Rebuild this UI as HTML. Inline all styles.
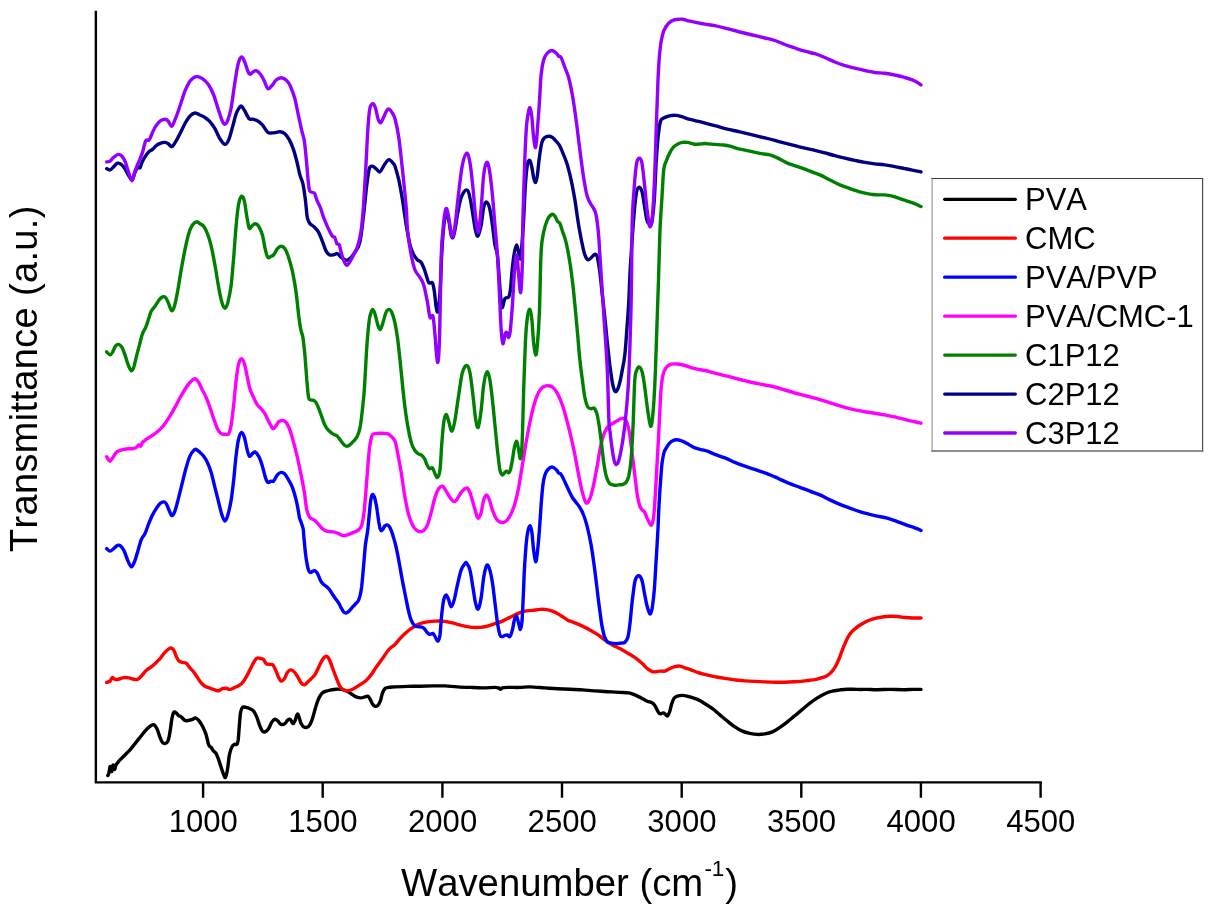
<!DOCTYPE html>
<html><head><meta charset="utf-8"><title>FTIR</title>
<style>
html,body{margin:0;padding:0;background:#fff;}
body{width:1213px;height:913px;overflow:hidden;}
svg{display:block;font-kerning:none;font-family:"Liberation Sans",sans-serif;}
.c{fill:none;stroke-width:3.4;stroke-linejoin:round;stroke-linecap:round;}
.t{font-size:31.1px;fill:#000;text-anchor:middle;}
.l{font-size:31px;fill:#000;}
</style></head><body>
<svg width="1213" height="913" viewBox="0 0 1213 913">
<rect width="1213" height="913" fill="#fff"/>
<path class="c" stroke="#000000" d="M107.8 775.6C108.0 775.2 108.5 774.6 108.8 773.5C109.1 772.4 109.4 770.2 109.6 769.0C109.8 767.8 110.0 766.4 110.2 766.5C110.4 766.6 110.7 768.7 111.0 769.5C111.3 770.3 111.5 771.9 111.8 771.5C112.1 771.1 112.4 768.1 112.6 767.0C112.8 765.9 113.0 764.8 113.2 765.0C113.4 765.2 113.7 767.8 114.0 768.5C114.3 769.2 114.5 769.7 114.8 769.3C115.1 768.9 115.3 766.9 115.6 766.0C115.9 765.1 116.2 764.6 116.6 764.0C117.0 763.4 117.4 763.0 118.0 762.3C118.6 761.6 118.8 761.1 120.0 759.9C121.2 758.6 123.3 756.5 125.0 754.9C126.6 753.2 128.3 751.8 130.0 749.9C131.6 748.0 133.3 745.7 135.0 743.6C136.6 741.5 138.3 739.5 140.0 737.4C141.6 735.3 143.5 732.8 145.0 731.1C146.4 729.5 147.5 728.4 148.7 727.4C150.0 726.4 151.4 725.2 152.5 724.9C153.5 724.6 154.1 724.8 155.0 725.6C155.8 726.5 156.6 727.9 157.5 729.9C158.3 731.9 159.1 735.3 160.0 737.4C160.8 739.5 161.6 741.4 162.4 742.4C163.3 743.4 164.0 743.8 164.9 743.6C165.9 743.4 167.1 743.0 167.9 741.1C168.8 739.3 169.3 735.9 169.9 732.4C170.6 728.9 171.1 723.2 171.7 719.9C172.3 716.6 172.9 713.6 173.7 712.4C174.4 711.2 175.4 712.4 176.2 712.9C177.0 713.5 177.9 715.0 178.7 715.7C179.5 716.3 180.1 716.1 181.2 716.9C182.2 717.7 183.7 719.8 184.9 720.4C186.2 721.0 187.4 720.6 188.7 720.4C189.9 720.2 191.3 719.8 192.4 719.4C193.6 719.0 194.4 717.7 195.4 717.9C196.5 718.1 197.5 719.0 198.7 720.4C199.8 721.8 201.2 723.7 202.4 726.1C203.7 728.6 205.1 731.8 206.2 734.9C207.2 738.0 207.8 742.8 208.7 744.9C209.5 747.0 210.3 746.3 211.2 747.4C212.0 748.4 212.8 750.1 213.7 751.1C214.5 752.2 215.3 752.2 216.2 753.6C217.0 755.1 217.8 757.6 218.7 759.9C219.5 762.2 220.3 764.9 221.2 767.4C222.0 769.9 223.0 773.2 223.7 774.9C224.4 776.5 224.8 778.2 225.4 777.4C226.0 776.5 226.7 773.6 227.4 769.9C228.1 766.1 228.7 758.6 229.4 754.9C230.1 751.1 230.9 749.1 231.7 747.4C232.4 745.6 233.3 744.9 234.2 744.4C235.0 743.9 236.2 745.1 236.9 744.4C237.6 743.6 237.7 743.1 238.2 739.9C238.6 736.6 239.0 729.5 239.4 724.9C239.8 720.3 240.1 715.3 240.6 712.4C241.1 709.5 241.5 708.2 242.4 707.4C243.3 706.6 244.9 707.2 246.1 707.4C247.4 707.6 248.6 708.0 249.9 708.7C251.1 709.3 252.5 709.7 253.6 711.2C254.8 712.6 255.8 714.9 256.9 717.4C257.9 719.9 259.0 723.9 259.9 726.1C260.8 728.4 261.5 730.2 262.4 731.1C263.3 732.1 264.3 732.1 265.4 731.6C266.4 731.2 267.6 730.2 268.6 728.6C269.7 727.1 270.6 724.0 271.6 722.4C272.7 720.8 273.8 719.4 274.9 719.1C275.9 718.9 276.8 720.3 277.9 721.1C278.9 722.0 279.9 724.0 281.1 724.4C282.3 724.8 283.7 724.4 284.9 723.6C286.0 722.9 286.9 720.6 287.9 719.9C288.8 719.2 289.5 718.8 290.4 719.4C291.2 720.0 292.1 723.4 292.9 723.6C293.6 723.9 294.1 722.7 294.9 721.1C295.6 719.6 296.6 714.8 297.4 714.2C298.1 713.5 298.5 715.8 299.1 717.4C299.7 719.0 300.4 722.1 301.1 723.6C301.9 725.2 302.6 726.3 303.6 726.9C304.6 727.5 305.8 727.7 306.8 727.4C307.9 727.1 308.8 726.6 309.8 724.9C310.8 723.2 311.9 720.3 312.8 717.4C313.8 714.5 314.6 710.5 315.6 707.4C316.5 704.3 317.5 701.1 318.6 698.7C319.7 696.3 321.1 694.2 322.3 692.9C323.6 691.7 324.6 691.7 326.1 691.2C327.5 690.7 329.4 690.3 331.1 689.9C332.7 689.6 334.4 689.3 336.1 689.2C337.7 689.1 339.4 689.2 341.1 689.4C342.7 689.7 344.4 690.0 346.1 690.7C347.7 691.4 349.4 692.6 351.1 693.7C352.7 694.7 354.4 696.2 356.1 696.9C357.7 697.6 359.6 697.9 361.1 697.9C362.5 697.9 363.7 697.2 364.8 696.9C365.9 696.6 367.0 695.9 367.8 696.2C368.6 696.5 369.1 697.4 369.8 698.7C370.6 699.9 371.5 702.4 372.3 703.7C373.1 704.9 373.9 705.9 374.8 706.2C375.7 706.5 376.9 706.2 377.8 705.4C378.7 704.6 379.5 703.1 380.3 701.2C381.0 699.2 381.5 695.8 382.3 693.7C383.0 691.6 383.8 689.7 384.8 688.7C385.8 687.6 387.1 687.7 388.5 687.4C390.0 687.1 392.5 687.0 393.5 686.9C394.6 686.8 392.7 687.0 395.0 686.9C397.3 686.8 403.3 686.6 407.5 686.4C411.7 686.3 415.8 686.3 420.0 686.2C424.1 686.1 428.3 686.0 432.5 685.9C436.6 685.9 440.8 685.8 445.0 685.9C449.1 686.1 453.3 686.7 457.4 686.9C461.6 687.2 465.8 687.3 469.9 687.4C474.1 687.6 478.3 687.9 482.4 687.9C486.6 687.9 492.2 687.4 494.9 687.4C497.6 687.4 497.8 687.6 498.7 687.9C499.6 688.3 499.8 689.4 500.4 689.4C501.0 689.4 501.3 688.3 502.4 687.9C503.6 687.6 504.5 687.5 507.4 687.4C510.3 687.3 516.2 687.5 519.9 687.4C523.7 687.3 525.7 686.8 529.9 686.9C534.1 687.0 540.3 687.6 544.9 687.9C549.5 688.2 553.2 688.5 557.4 688.7C561.5 688.9 565.7 689.0 569.9 689.2C574.0 689.4 578.2 689.6 582.4 689.9C586.5 690.2 590.7 690.6 594.9 690.9C599.0 691.2 603.2 691.4 607.3 691.7C611.5 691.9 616.3 692.2 619.8 692.4C623.4 692.6 626.1 692.5 628.6 692.9C631.1 693.3 632.7 694.1 634.8 694.9C636.9 695.8 639.0 696.9 641.1 697.9C643.2 699.0 645.4 700.3 647.3 701.2C649.2 702.0 651.0 702.1 652.3 702.9C653.6 703.8 654.4 704.8 655.3 706.2C656.2 707.5 657.0 709.9 657.8 711.2C658.5 712.4 658.8 713.4 659.8 713.7C660.8 714.0 662.5 712.7 663.5 712.9C664.6 713.1 665.3 714.5 666.0 714.9C666.8 715.4 667.2 716.3 667.8 715.7C668.4 715.0 669.1 713.2 669.8 711.2C670.5 709.2 671.0 705.9 671.8 703.7C672.5 701.5 673.4 699.2 674.3 697.9C675.2 696.7 676.0 696.6 677.3 696.2C678.6 695.8 680.6 695.4 682.3 695.4C683.9 695.4 686.0 695.9 687.3 696.2C688.6 696.4 688.3 696.4 690.0 696.9C691.7 697.5 695.0 698.3 697.5 699.4C700.0 700.5 702.5 702.1 705.0 703.7C707.4 705.2 710.0 706.8 712.5 708.7C714.9 710.5 717.4 712.8 719.9 714.9C722.4 717.0 724.9 719.2 727.4 721.1C729.9 723.1 732.4 725.2 734.9 726.9C737.4 728.6 739.9 730.1 742.4 731.1C744.9 732.2 747.4 732.8 749.9 733.4C752.4 733.9 754.9 734.3 757.4 734.4C759.9 734.5 762.4 734.3 764.9 733.9C767.4 733.5 769.9 733.0 772.4 731.9C774.9 730.8 777.4 729.1 779.9 727.4C782.4 725.7 784.9 723.9 787.4 721.9C789.9 719.9 792.4 717.7 794.9 715.7C797.4 713.6 799.9 711.5 802.4 709.4C804.9 707.3 807.4 705.1 809.9 703.2C812.4 701.3 814.9 699.5 817.4 697.9C819.9 696.3 822.4 694.8 824.9 693.7C827.4 692.5 829.9 691.8 832.4 691.2C834.9 690.5 837.4 690.3 839.9 689.9C842.3 689.6 844.4 689.3 847.3 689.2C850.3 689.1 854.0 689.4 857.3 689.4C860.7 689.5 864.0 689.4 867.3 689.4C870.7 689.5 873.6 689.7 877.3 689.7C881.1 689.7 885.6 689.4 889.8 689.4C894.0 689.4 898.6 689.7 902.3 689.7C906.0 689.7 909.2 689.5 912.3 689.4C915.4 689.4 919.6 689.4 921.0 689.4"/>
<path class="c" stroke="#ff0000" d="M106.7 682.4C107.3 682.2 109.0 682.0 110.0 681.2C110.9 680.3 111.7 677.7 112.5 677.4C113.3 677.1 113.9 679.1 115.0 679.4C116.0 679.7 117.5 679.4 118.7 679.2C120.0 678.9 121.2 678.2 122.5 677.9C123.7 677.6 125.0 677.4 126.2 677.4C127.5 677.5 128.7 677.9 130.0 678.2C131.2 678.5 132.5 679.0 133.7 679.2C135.0 679.4 136.2 679.9 137.5 679.4C138.7 678.9 139.8 677.7 141.2 676.2C142.7 674.7 144.6 672.0 146.2 670.4C147.9 668.9 149.5 668.3 151.2 666.9C152.9 665.6 154.8 663.8 156.2 662.5C157.7 661.1 158.7 660.2 160.0 658.7C161.2 657.2 162.5 655.2 163.7 653.7C164.9 652.2 166.3 650.9 167.4 650.0C168.6 649.0 169.7 648.0 170.7 648.0C171.7 648.0 172.8 648.6 173.7 650.0C174.6 651.3 175.4 654.4 176.2 656.2C177.0 658.0 177.6 659.7 178.7 660.7C179.7 661.7 181.2 662.0 182.4 662.5C183.7 662.9 184.9 662.3 186.2 663.2C187.4 664.1 188.7 666.5 189.9 667.9C191.2 669.4 192.4 670.4 193.7 671.9C194.9 673.5 196.2 675.6 197.4 677.4C198.7 679.3 199.9 681.5 201.2 682.9C202.4 684.4 203.5 685.3 204.9 686.2C206.4 687.1 208.3 687.6 209.9 688.2C211.6 688.8 213.5 689.5 214.9 689.9C216.4 690.3 217.4 690.9 218.7 690.7C219.9 690.5 221.2 689.1 222.4 688.7C223.7 688.3 224.9 688.1 226.2 688.2C227.4 688.3 228.4 689.6 229.9 689.4C231.4 689.3 233.2 688.2 234.9 687.4C236.6 686.7 238.4 686.0 239.9 684.9C241.4 683.9 242.4 682.8 243.6 681.2C244.9 679.5 246.1 677.2 247.4 674.9C248.6 672.7 250.0 669.7 251.1 667.4C252.3 665.2 253.3 662.8 254.4 661.2C255.4 659.6 256.3 658.4 257.4 658.0C258.5 657.5 260.1 658.5 261.1 658.7C262.2 659.0 262.8 658.6 263.6 659.5C264.5 660.3 265.1 662.9 266.1 663.7C267.2 664.5 268.7 664.2 269.9 664.4C271.0 664.6 271.8 663.8 272.9 664.9C273.9 666.1 275.2 669.1 276.1 671.2C277.1 673.3 277.8 675.8 278.6 677.4C279.5 679.1 280.2 681.0 281.1 681.2C282.1 681.4 283.3 680.1 284.4 678.7C285.4 677.2 286.4 673.9 287.4 672.4C288.4 671.0 289.3 670.1 290.4 669.9C291.4 669.7 292.4 670.1 293.6 671.2C294.8 672.2 296.1 674.2 297.4 676.2C298.6 678.1 299.9 681.5 301.1 682.9C302.3 684.4 303.3 685.0 304.4 684.9C305.4 684.8 306.2 683.5 307.3 682.4C308.5 681.4 309.8 679.9 311.1 678.7C312.3 677.4 313.6 676.8 314.8 674.9C316.1 673.1 317.3 669.9 318.6 667.4C319.8 664.9 321.1 661.8 322.3 660.0C323.6 658.1 324.9 656.3 326.1 656.2C327.2 656.1 328.3 657.6 329.3 659.5C330.4 661.3 331.2 664.4 332.3 667.4C333.5 670.4 334.8 674.3 336.1 677.4C337.3 680.6 338.6 684.1 339.8 686.2C341.1 688.3 342.1 689.2 343.6 689.9C345.0 690.7 346.9 690.9 348.6 690.7C350.2 690.5 351.7 689.6 353.6 688.7C355.4 687.7 357.7 686.3 359.8 684.9C361.9 683.6 364.2 682.1 366.1 680.4C367.9 678.8 369.4 677.1 371.1 674.9C372.7 672.8 374.2 670.1 376.0 667.4C377.9 664.7 380.2 661.6 382.3 658.7C384.4 655.8 386.4 652.4 388.5 650.0C390.6 647.6 393.1 646.2 395.0 644.4C396.9 642.5 398.3 640.4 400.0 638.6C401.7 636.8 403.3 635.1 405.0 633.6C406.7 632.1 408.3 630.6 410.0 629.4C411.7 628.1 413.3 627.1 415.0 626.1C416.7 625.2 417.9 624.3 420.0 623.6C422.1 622.9 425.0 622.3 427.5 621.9C430.0 621.5 432.5 621.2 435.0 621.1C437.5 621.0 440.0 620.9 442.5 621.1C445.0 621.3 447.5 621.8 450.0 622.4C452.5 622.9 455.0 623.7 457.4 624.4C459.9 625.0 462.5 625.6 464.9 626.1C467.4 626.6 469.9 627.2 472.4 627.4C474.9 627.6 477.4 627.6 479.9 627.4C482.4 627.2 484.9 626.7 487.4 626.1C489.9 625.5 492.4 624.5 494.9 623.6C497.4 622.8 499.9 622.2 502.4 621.1C504.9 620.1 507.4 618.6 509.9 617.4C512.4 616.1 514.9 614.7 517.4 613.6C519.9 612.6 522.4 611.7 524.9 611.1C527.4 610.6 529.9 610.7 532.4 610.4C534.9 610.1 537.8 609.5 539.9 609.4C542.0 609.2 542.8 609.1 544.9 609.4C547.0 609.7 549.9 610.2 552.4 611.1C554.9 612.0 557.4 613.4 559.9 614.9C562.4 616.3 564.9 618.5 567.4 619.9C569.9 621.2 572.4 621.8 574.9 622.9C577.4 623.9 579.9 625.0 582.4 626.1C584.9 627.3 587.4 628.5 589.9 629.9C592.3 631.2 594.9 632.7 597.4 634.4C599.8 636.0 602.3 638.1 604.8 639.9C607.3 641.6 609.8 643.4 612.3 644.9C614.8 646.3 617.3 647.3 619.8 648.6C622.3 649.9 624.8 651.4 627.3 652.9C629.8 654.3 632.3 655.6 634.8 657.3C637.3 659.1 640.2 661.7 642.3 663.6C644.4 665.5 645.6 667.3 647.3 668.6C649.0 669.9 650.9 671.0 652.3 671.6C653.8 672.1 654.8 671.9 656.0 671.8C657.3 671.7 658.3 671.2 659.8 671.1C661.3 671.0 663.1 671.5 664.8 671.1C666.5 670.7 668.1 669.3 669.8 668.6C671.5 667.8 673.1 667.0 674.8 666.6C676.5 666.2 678.1 665.9 679.8 666.1C681.5 666.3 682.9 667.2 684.8 667.8C686.7 668.5 688.9 669.1 691.0 669.8C693.1 670.6 695.1 671.7 697.5 672.4C699.8 673.2 702.0 673.7 705.0 674.4C707.9 675.1 711.6 676.0 714.9 676.7C718.3 677.3 721.6 677.9 724.9 678.4C728.3 679.0 731.6 679.5 734.9 679.9C738.3 680.3 741.6 680.7 744.9 680.9C748.2 681.2 751.6 681.3 754.9 681.4C758.2 681.6 761.6 681.8 764.9 681.9C768.2 682.1 771.6 682.1 774.9 682.2C778.2 682.2 781.6 682.3 784.9 682.2C788.2 682.1 791.5 681.9 794.9 681.7C798.2 681.5 801.5 681.3 804.9 680.9C808.2 680.6 812.2 680.2 814.9 679.7C817.6 679.2 819.2 678.5 821.1 677.9C823.0 677.3 824.4 677.1 826.1 676.2C827.8 675.3 829.7 673.9 831.1 672.4C832.6 671.0 833.6 669.5 834.9 667.4C836.1 665.4 837.4 662.7 838.6 660.0C839.8 657.2 840.8 653.9 841.9 651.2C842.9 648.5 843.7 646.2 844.9 643.7C846.0 641.2 847.3 638.3 848.6 636.2C849.8 634.1 850.9 632.8 852.3 631.2C853.8 629.7 855.5 628.3 857.3 627.0C859.2 625.6 861.5 624.1 863.6 623.0C865.7 621.8 867.7 620.8 869.8 620.0C871.9 619.2 874.0 618.7 876.1 618.2C878.2 617.7 880.0 617.3 882.3 617.0C884.6 616.6 887.3 616.3 889.8 616.2C892.3 616.1 894.8 616.3 897.3 616.5C899.8 616.7 902.3 617.2 904.8 617.5C907.3 617.7 909.6 617.9 912.3 618.0C915.0 618.1 919.6 618.0 921.0 618.0"/>
<path class="c" stroke="#0000ff" d="M106.7 548.6C107.3 549.0 108.8 551.1 110.0 551.1C111.2 551.1 112.5 549.5 113.7 548.6C115.0 547.6 116.3 545.8 117.5 545.4C118.7 544.9 119.6 545.1 120.7 546.1C121.9 547.1 123.1 548.8 124.2 551.1C125.4 553.4 126.3 557.2 127.5 559.8C128.6 562.5 130.1 566.4 131.2 566.8C132.4 567.2 133.2 564.7 134.2 562.3C135.3 559.9 136.3 556.1 137.5 552.3C138.6 548.6 140.0 543.0 141.2 539.9C142.5 536.7 143.7 536.3 145.0 533.6C146.2 530.9 147.5 526.7 148.7 523.6C150.0 520.5 151.2 517.4 152.5 514.9C153.7 512.4 155.0 510.5 156.2 508.6C157.5 506.7 158.7 504.8 160.0 503.6C161.2 502.5 162.7 501.9 163.7 501.9C164.7 501.9 165.2 502.1 166.2 503.6C167.2 505.2 168.5 509.1 169.4 511.1C170.4 513.1 171.0 515.6 171.9 515.6C172.9 515.6 173.8 514.2 174.9 511.1C176.1 508.1 177.4 502.2 178.7 497.4C179.9 492.6 181.2 487.4 182.4 482.4C183.7 477.4 184.9 471.8 186.2 467.4C187.4 463.0 188.7 459.0 189.9 456.2C191.2 453.3 192.6 451.5 193.7 450.4C194.7 449.3 195.1 449.1 196.2 449.4C197.2 449.8 198.7 451.3 199.9 452.4C201.2 453.5 202.4 454.5 203.7 456.2C204.9 457.8 206.2 459.7 207.4 462.4C208.7 465.1 209.9 468.2 211.2 472.4C212.4 476.6 213.7 482.4 214.9 487.4C216.2 492.4 217.5 497.8 218.7 502.4C219.8 507.0 220.9 511.7 221.9 514.9C223.0 518.0 223.9 521.1 224.9 521.1C225.9 521.1 226.9 518.4 227.9 514.9C228.9 511.3 230.2 505.7 231.2 499.9C232.1 494.1 232.8 487.4 233.7 479.9C234.5 472.4 235.3 461.8 236.2 454.9C237.0 448.0 237.7 442.4 238.7 438.7C239.6 434.9 240.7 432.6 241.6 432.4C242.6 432.2 243.5 434.7 244.4 437.4C245.3 440.1 246.1 445.5 246.9 448.7C247.7 451.8 248.5 455.3 249.4 456.2C250.3 457.0 251.5 454.4 252.4 453.7C253.3 453.0 253.8 451.5 254.9 451.9C255.9 452.3 257.4 453.8 258.6 456.2C259.9 458.5 261.3 462.6 262.4 466.2C263.5 469.7 264.5 474.7 265.4 477.4C266.3 480.1 266.9 481.8 267.9 482.4C268.8 483.0 270.2 481.3 271.1 481.1C272.1 480.9 272.6 482.2 273.6 481.1C274.7 480.1 276.1 476.4 277.4 474.9C278.6 473.4 279.9 472.5 281.1 472.4C282.4 472.3 283.6 472.9 284.9 474.1C286.1 475.4 287.4 477.7 288.6 479.9C289.9 482.1 291.1 484.1 292.4 487.4C293.6 490.7 295.1 495.7 296.1 499.9C297.1 504.0 298.1 509.4 298.6 512.4C299.2 515.3 299.0 516.0 299.4 517.7C299.8 519.4 300.7 520.9 301.3 522.7C301.9 524.6 302.7 526.7 303.2 529.0C303.6 531.3 303.6 534.0 303.8 536.3C304.0 538.5 304.1 539.4 304.4 542.5C304.7 545.7 305.2 551.3 305.7 555.1C306.1 558.8 306.8 562.5 307.3 565.1C307.8 567.7 308.2 569.5 308.8 570.7C309.4 572.0 310.1 572.5 310.7 572.6C311.3 572.7 311.9 571.7 312.6 571.4C313.2 571.0 314.0 570.5 314.7 570.7C315.4 570.9 316.3 571.7 316.9 572.6C317.6 573.5 318.2 575.0 318.8 576.4C319.4 577.7 320.0 579.5 320.7 580.8C321.4 582.0 322.3 583.2 323.2 584.1C324.1 585.1 325.3 585.5 326.3 586.4C327.4 587.3 328.4 588.2 329.5 589.5C330.5 590.9 331.6 593.0 332.6 594.5C333.7 596.1 334.7 597.5 335.7 598.9C336.8 600.4 337.9 601.7 338.9 603.3C339.8 604.9 340.5 606.9 341.4 608.3C342.2 609.8 343.1 611.3 343.9 612.1C344.7 612.9 345.3 613.1 346.1 613.0C347.0 612.8 347.9 612.1 348.9 611.2C349.9 610.3 351.0 608.9 352.0 607.7C353.1 606.5 354.1 605.3 355.2 604.2C356.2 603.0 357.5 602.3 358.3 600.8C359.1 599.3 359.6 597.6 360.2 595.2C360.7 592.8 361.2 589.9 361.7 586.4C362.1 582.8 362.5 578.5 362.9 573.9C363.3 569.3 363.8 563.6 364.2 558.8C364.6 554.0 364.9 549.8 365.4 545.0C366.0 540.3 367.1 535.2 367.7 530.2C368.3 525.3 368.7 519.8 369.2 515.2C369.7 510.6 370.0 505.9 370.4 502.7C370.9 499.4 371.3 497.1 371.7 495.8C372.1 494.4 372.3 494.4 372.7 494.5C373.1 494.6 373.7 495.1 374.2 496.4C374.7 497.8 375.3 500.2 375.8 502.7C376.4 505.2 376.9 508.3 377.3 511.4C377.8 514.6 378.3 518.7 378.7 521.5C379.2 524.3 379.6 526.8 380.0 528.4C380.4 529.9 380.7 530.8 381.2 530.9C381.7 531.0 382.4 529.8 383.0 529.0C383.6 528.2 384.2 526.5 384.9 525.9C385.5 525.2 386.1 524.9 386.7 524.9C387.4 524.9 388.1 525.2 388.8 525.9C389.4 526.5 390.0 527.5 390.6 529.0C391.3 530.5 392.0 532.5 392.8 535.0C393.5 537.5 394.4 540.4 395.3 543.8C396.1 547.1 396.9 550.9 397.8 555.1C398.6 559.2 399.4 564.3 400.3 568.9C401.1 573.4 401.9 578.2 402.8 582.6C403.6 587.0 404.5 591.0 405.3 595.2C406.1 599.3 407.0 603.9 407.8 607.7C408.6 611.5 409.5 615.1 410.3 617.7C411.1 620.3 412.0 622.0 412.8 623.4C413.6 624.7 414.4 625.3 415.3 625.9C416.2 626.4 417.4 626.5 418.4 626.7C419.5 627.0 420.6 626.8 421.6 627.1C422.5 627.4 423.3 627.6 424.1 628.4C424.9 629.1 425.8 630.8 426.6 631.8C427.4 632.7 428.4 633.9 429.1 634.3C429.8 634.6 430.4 634.2 431.0 634.0C431.6 633.9 432.2 633.1 432.9 633.4C433.5 633.7 434.1 634.8 434.7 635.9C435.4 636.9 436.0 638.8 436.6 639.6C437.2 640.5 437.7 641.7 438.2 640.9C438.8 640.1 439.4 639.2 440.0 634.9C440.5 630.5 441.1 620.7 441.7 614.9C442.3 609.1 443.0 603.2 443.7 599.9C444.5 596.6 445.4 594.9 446.2 594.9C447.0 594.9 447.9 597.9 448.7 599.9C449.5 601.9 450.3 606.9 451.2 606.9C452.1 606.9 453.2 603.6 454.2 599.9C455.2 596.2 456.3 589.9 457.4 584.9C458.6 579.9 459.9 573.4 461.2 569.9C462.4 566.4 464.0 564.8 464.9 563.7C465.9 562.5 465.9 562.1 466.7 563.2C467.5 564.2 468.9 565.9 469.9 569.9C471.0 573.9 472.0 582.0 472.9 587.4C473.9 592.8 474.6 598.8 475.4 602.4C476.3 606.0 477.2 610.0 478.2 609.1C479.1 608.3 480.3 602.7 481.2 597.4C482.1 592.1 482.8 582.7 483.7 577.4C484.6 572.1 485.7 566.9 486.7 565.4C487.6 564.0 488.5 565.8 489.4 568.7C490.4 571.5 491.5 576.8 492.4 582.4C493.3 588.0 494.1 595.7 494.9 602.4C495.8 609.1 496.6 617.0 497.4 622.4C498.3 627.8 499.1 632.5 499.9 634.9C500.8 637.2 501.6 636.5 502.4 636.6C503.3 636.7 504.1 635.7 504.9 635.4C505.8 635.1 506.6 634.7 507.4 634.9C508.3 635.1 509.1 637.4 509.9 636.6C510.7 635.8 511.7 632.7 512.4 629.9C513.2 627.1 513.7 622.2 514.4 619.9C515.1 617.6 516.0 615.5 516.7 616.1C517.4 616.8 518.0 621.4 518.7 623.6C519.3 625.8 519.9 629.6 520.4 629.4C520.9 629.2 521.4 627.3 521.9 622.4C522.4 617.5 522.7 608.6 523.1 599.9C523.6 591.1 523.9 579.1 524.4 569.9C524.9 560.8 525.6 551.4 526.1 544.9C526.7 538.5 527.2 534.4 527.9 531.2C528.6 528.0 529.5 525.5 530.1 525.7C530.8 525.9 531.3 528.4 531.9 532.4C532.5 536.5 533.0 545.1 533.6 549.9C534.3 554.8 535.0 561.3 535.6 561.7C536.3 562.1 536.8 557.7 537.4 552.4C538.0 547.1 538.8 537.9 539.4 529.9C540.0 522.0 540.6 512.5 541.1 505.0C541.7 497.5 542.3 490.0 542.9 485.0C543.5 480.0 544.1 477.6 544.9 475.0C545.7 472.4 546.7 470.8 547.9 469.5C549.1 468.2 550.5 467.0 551.9 467.0C553.3 467.0 555.0 468.5 556.1 469.5C557.3 470.5 557.8 472.1 558.6 473.0C559.5 473.8 560.1 473.0 561.1 474.5C562.2 476.0 563.6 479.4 564.9 482.0C566.1 484.6 567.4 487.4 568.6 490.0C569.9 492.6 571.1 495.4 572.4 497.5C573.6 499.5 574.9 500.8 576.1 502.5C577.4 504.1 578.6 505.4 579.9 507.5C581.1 509.5 582.4 511.6 583.6 515.0C584.9 518.3 586.1 522.4 587.4 527.4C588.6 532.4 590.0 538.7 591.1 544.9C592.2 551.2 593.1 557.8 594.1 564.9C595.1 572.0 596.0 580.3 596.9 587.4C597.7 594.5 598.5 601.1 599.4 607.4C600.2 613.6 601.0 620.1 601.8 624.9C602.7 629.7 603.4 633.3 604.3 636.1C605.3 638.9 606.2 640.7 607.3 641.9C608.5 643.0 609.6 642.8 611.1 643.1C612.5 643.4 614.4 643.6 616.1 643.6C617.7 643.6 619.6 643.3 621.1 643.1C622.5 642.9 623.7 643.3 624.8 642.4C626.0 641.4 627.0 640.3 627.8 637.4C628.7 634.4 629.2 630.3 629.8 624.9C630.5 619.5 631.2 610.7 631.8 604.9C632.4 599.1 633.0 594.1 633.6 589.9C634.2 585.7 634.5 582.3 635.3 579.9C636.2 577.5 637.5 575.7 638.6 575.7C639.7 575.7 640.9 577.1 641.8 579.9C642.8 582.7 643.5 588.2 644.3 592.4C645.1 596.6 646.0 601.5 646.8 604.9C647.6 608.2 648.4 610.9 649.1 612.4C649.7 613.8 650.0 614.5 650.6 613.6C651.1 612.8 651.7 611.3 652.3 607.4C652.9 603.4 653.7 597.4 654.3 589.9C654.9 582.4 655.5 571.7 656.0 562.4C656.6 553.1 657.3 542.1 657.7 534.0C658.2 526.0 658.3 520.5 658.6 514.0C658.9 507.5 659.2 501.5 659.6 495.2C660.0 488.9 660.5 481.8 660.9 476.4C661.3 471.0 661.6 466.6 662.1 462.6C662.7 458.6 663.3 455.1 664.0 452.6C664.7 450.1 665.6 449.1 666.5 447.6C667.5 446.0 668.6 444.3 669.6 443.2C670.7 442.0 671.6 441.2 672.8 440.7C673.9 440.1 675.2 439.8 676.5 439.8C677.9 439.8 679.5 440.2 680.9 440.7C682.4 441.1 684.0 441.9 685.3 442.6C686.6 443.2 687.1 443.5 688.7 444.4C690.3 445.3 692.7 447.0 695.0 447.9C697.2 448.8 700.4 449.4 702.5 449.9C704.5 450.5 705.4 450.4 707.5 451.2C709.5 451.9 712.0 453.3 714.9 454.4C717.9 455.5 721.6 456.6 724.9 457.9C728.3 459.2 731.6 461.0 734.9 462.4C738.3 463.8 741.6 465.0 744.9 466.2C748.2 467.3 751.6 468.3 754.9 469.4C758.2 470.5 761.6 471.6 764.9 472.9C768.2 474.1 772.0 475.7 774.9 476.9C777.8 478.1 779.9 479.3 782.4 480.4C784.9 481.5 787.0 482.5 789.9 483.6C792.8 484.8 796.5 486.1 799.9 487.4C803.2 488.6 806.5 489.9 809.9 491.1C813.2 492.4 816.5 493.4 819.9 494.9C823.2 496.3 826.5 498.3 829.9 499.9C833.2 501.5 836.5 503.0 839.9 504.4C843.2 505.8 846.5 506.9 849.8 508.1C853.2 509.3 856.5 510.6 859.8 511.6C863.2 512.7 866.9 513.6 869.8 514.4C872.7 515.1 874.4 515.5 877.3 516.1C880.2 516.7 884.0 517.2 887.3 518.1C890.6 519.0 894.0 520.4 897.3 521.6C900.6 522.8 904.4 524.3 907.3 525.4C910.2 526.4 912.5 527.0 914.8 527.9C917.1 528.7 920.0 529.9 921.0 530.4"/>
<path class="c" stroke="#ff00ff" d="M106.7 456.9C107.3 457.6 108.9 461.1 110.0 461.2C111.0 461.2 111.9 458.9 113.0 457.4C114.0 456.0 115.1 453.6 116.2 452.4C117.4 451.3 118.5 451.0 120.0 450.4C121.4 449.9 123.5 449.5 125.0 449.2C126.4 448.9 127.5 448.8 128.7 448.7C130.0 448.6 131.2 448.9 132.5 448.7C133.7 448.5 135.2 448.0 136.2 447.4C137.3 446.8 138.0 445.1 138.7 444.9C139.5 444.7 140.1 446.6 140.7 446.2C141.3 445.8 141.6 443.5 142.5 442.4C143.4 441.3 145.0 440.3 146.2 439.4C147.5 438.5 148.5 437.9 150.0 436.9C151.4 436.0 153.3 434.9 155.0 433.7C156.6 432.4 158.3 431.1 160.0 429.4C161.6 427.8 163.3 425.9 164.9 423.7C166.6 421.5 168.3 418.9 169.9 416.2C171.6 413.5 173.3 410.5 174.9 407.4C176.6 404.4 178.3 401.0 179.9 398.0C181.6 395.0 183.3 392.0 184.9 389.5C186.6 386.9 188.3 384.3 189.9 382.5C191.6 380.7 193.5 378.7 194.9 378.7C196.4 378.7 197.4 380.6 198.7 382.5C199.9 384.3 201.2 387.5 202.4 390.0C203.7 392.5 204.9 394.5 206.2 397.5C207.4 400.4 208.7 403.9 209.9 407.4C211.2 411.0 212.4 415.2 213.7 418.7C214.9 422.2 216.2 426.2 217.4 428.7C218.7 431.2 219.9 432.7 221.2 433.7C222.4 434.6 223.7 434.4 224.9 434.4C226.2 434.4 227.6 435.3 228.7 433.7C229.7 432.1 230.3 429.7 231.2 424.9C232.0 420.2 232.8 412.4 233.7 404.9C234.5 397.5 235.3 386.8 236.2 380.0C237.0 373.1 237.7 367.3 238.7 363.7C239.6 360.2 240.7 358.7 241.6 358.7C242.6 358.7 243.5 361.0 244.4 363.7C245.3 366.4 246.0 370.8 246.9 375.0C247.8 379.1 248.8 385.0 249.9 388.7C251.0 392.5 252.4 394.8 253.6 397.5C254.9 400.2 256.1 403.1 257.4 404.9C258.6 406.8 259.9 407.2 261.1 408.7C262.4 410.2 263.6 411.6 264.9 413.7C266.1 415.8 267.4 418.8 268.6 421.2C269.9 423.6 271.3 427.1 272.4 428.2C273.4 429.2 273.8 428.5 274.9 427.4C275.9 426.4 277.4 423.1 278.6 421.9C279.9 420.8 281.1 420.4 282.4 420.4C283.6 420.5 284.9 420.9 286.1 422.4C287.4 424.0 288.6 426.6 289.9 429.9C291.1 433.3 292.4 437.8 293.6 442.4C294.8 447.0 296.1 452.0 297.4 457.4C298.6 462.8 299.9 469.1 301.1 474.9C302.3 480.7 303.4 486.6 304.4 492.4C305.3 498.2 305.9 505.7 306.8 509.9C307.8 514.0 308.5 515.6 309.8 517.4C311.2 519.1 313.4 519.2 314.8 520.4C316.3 521.5 317.3 523.0 318.6 524.4C319.8 525.7 320.9 527.4 322.3 528.6C323.8 529.8 325.5 530.8 327.3 531.4C329.2 531.9 331.7 531.5 333.6 531.9C335.4 532.2 336.9 533.0 338.6 533.6C340.2 534.2 341.9 535.5 343.6 535.6C345.2 535.7 346.9 534.9 348.6 534.4C350.2 533.8 351.9 533.1 353.6 532.4C355.2 531.6 357.2 531.1 358.6 529.9C359.9 528.6 360.8 528.2 361.8 524.9C362.8 521.5 363.5 517.4 364.3 509.9C365.1 502.4 366.0 489.9 366.8 479.9C367.6 469.9 368.5 457.2 369.3 449.9C370.1 442.6 370.9 438.9 371.8 436.2C372.7 433.5 373.2 434.2 374.8 433.7C376.3 433.2 379.0 433.2 381.0 433.2C383.1 433.2 385.6 433.2 387.3 433.7C388.9 434.2 389.7 434.9 391.0 436.2C392.3 437.4 393.8 438.1 395.0 441.2C396.2 444.3 397.0 449.7 398.0 454.9C399.0 460.1 400.1 465.3 401.2 472.4C402.4 479.5 403.7 490.3 405.0 497.4C406.2 504.5 407.5 510.3 408.7 514.9C410.0 519.5 411.2 522.4 412.5 524.9C413.7 527.4 415.0 528.7 416.2 529.9C417.5 531.0 418.7 531.5 420.0 531.6C421.2 531.7 422.5 531.7 423.7 530.6C425.0 529.5 426.2 527.9 427.5 524.9C428.7 521.8 430.0 517.0 431.2 512.4C432.5 507.8 433.7 501.4 435.0 497.4C436.2 493.4 437.5 490.5 438.7 488.6C440.0 486.8 441.2 485.7 442.5 486.2C443.7 486.6 445.0 489.3 446.2 491.1C447.5 493.0 448.6 495.7 450.0 497.4C451.3 499.1 453.0 501.4 454.2 501.6C455.5 501.8 456.3 500.2 457.4 498.6C458.6 497.1 459.9 494.1 461.2 492.4C462.4 490.7 463.9 489.4 464.9 488.6C466.0 487.9 466.6 487.5 467.4 488.1C468.3 488.8 468.9 489.6 469.9 492.4C471.0 495.2 472.5 500.9 473.7 504.9C474.9 508.8 476.1 514.0 476.9 516.1C477.8 518.3 478.0 518.5 478.7 517.9C479.4 517.3 480.4 515.4 481.2 512.4C482.0 509.4 482.8 502.8 483.7 499.9C484.6 497.0 485.7 494.9 486.7 494.9C487.6 494.9 488.5 497.4 489.4 499.9C490.4 502.4 491.3 506.8 492.4 509.9C493.6 513.0 494.9 516.6 496.2 518.6C497.4 520.6 498.7 521.3 499.9 521.9C501.2 522.5 502.4 522.7 503.7 522.4C504.9 522.0 506.2 521.3 507.4 519.9C508.7 518.4 509.9 516.3 511.2 513.6C512.4 510.9 513.7 508.0 514.9 503.6C516.2 499.3 517.4 493.9 518.7 487.4C519.9 480.9 521.2 472.4 522.4 464.9C523.6 457.4 524.9 449.5 526.1 442.4C527.4 435.4 528.6 428.5 529.9 422.4C531.1 416.4 532.4 410.8 533.6 406.2C534.9 401.6 536.1 397.9 537.4 395.0C538.6 392.1 539.9 390.2 541.1 388.7C542.4 387.3 543.6 386.7 544.9 386.2C546.1 385.7 547.4 385.6 548.6 385.7C549.9 385.9 551.1 386.1 552.4 387.0C553.6 387.9 554.9 389.3 556.1 391.2C557.4 393.2 558.6 395.8 559.9 398.7C561.1 401.6 562.4 404.8 563.6 408.7C564.9 412.7 566.1 417.7 567.4 422.4C568.6 427.2 569.9 432.0 571.1 437.4C572.4 442.9 573.6 448.7 574.9 454.9C576.1 461.2 577.4 468.7 578.6 474.9C579.9 481.2 581.1 487.7 582.4 492.4C583.6 497.1 584.9 501.8 586.1 502.9C587.4 503.9 588.6 501.6 589.9 498.6C591.1 495.7 592.4 490.5 593.6 484.9C594.9 479.3 596.2 471.2 597.4 464.9C598.5 458.7 599.3 452.4 600.4 447.4C601.4 442.4 602.4 438.3 603.6 434.9C604.8 431.6 605.9 429.3 607.3 427.4C608.8 425.6 610.7 424.8 612.3 423.7C614.0 422.6 615.6 421.6 617.3 420.7C619.1 419.8 621.2 417.9 622.8 418.2C624.4 418.5 625.7 419.7 626.8 422.4C628.0 425.2 628.9 429.5 629.8 434.9C630.7 440.4 631.5 448.3 632.3 454.9C633.2 461.6 634.0 468.2 634.8 474.9C635.7 481.6 636.5 489.7 637.3 494.9C638.2 500.1 639.0 503.6 639.8 506.1C640.7 508.6 641.5 508.8 642.3 509.9C643.1 510.9 644.0 510.9 644.8 512.4C645.6 513.8 646.5 516.8 647.3 518.6C648.1 520.5 649.1 522.6 649.8 523.6C650.5 524.7 650.9 525.9 651.6 524.9C652.2 523.8 652.9 522.4 653.6 517.4C654.2 512.4 654.7 504.5 655.3 494.9C655.9 485.3 656.6 472.0 657.3 459.9C658.0 447.9 658.7 434.1 659.3 422.4C659.9 410.8 660.4 397.9 661.0 390.0C661.7 382.1 662.1 378.7 663.0 375.0C663.8 371.2 664.9 369.3 666.2 367.5C667.6 365.7 669.4 364.8 671.2 364.2C673.1 363.6 675.2 363.8 677.5 364.0C679.8 364.2 682.1 364.7 685.0 365.5C687.9 366.3 691.6 367.9 695.0 368.7C698.3 369.6 701.6 369.7 705.0 370.5C708.3 371.2 711.2 372.3 714.9 373.2C718.7 374.2 723.3 375.2 727.4 376.2C731.6 377.3 735.8 378.4 739.9 379.5C744.1 380.5 748.3 381.6 752.4 382.5C756.6 383.4 761.2 384.2 764.9 385.0C768.7 385.7 771.6 386.1 774.9 387.0C778.2 387.8 781.6 389.0 784.9 390.0C788.2 391.0 791.5 392.0 794.9 393.0C798.2 393.9 801.5 394.6 804.9 395.5C808.2 396.3 811.5 397.3 814.9 398.2C818.2 399.2 821.5 400.2 824.9 401.2C828.2 402.2 831.5 403.4 834.9 404.4C838.2 405.5 841.5 406.5 844.9 407.4C848.2 408.4 851.5 409.2 854.8 409.9C858.2 410.7 861.5 411.2 864.8 411.7C868.2 412.2 871.5 412.7 874.8 413.2C878.2 413.7 881.5 414.3 884.8 414.9C888.2 415.6 891.5 416.2 894.8 416.9C898.1 417.7 901.9 418.7 904.8 419.4C907.7 420.1 909.6 420.6 912.3 421.2C915.0 421.8 919.6 422.9 921.0 423.2"/>
<path class="c" stroke="#008000" d="M106.7 351.9C107.3 352.4 109.0 354.8 110.0 354.9C110.9 355.0 111.6 353.8 112.5 352.4C113.4 350.9 114.4 347.5 115.5 346.1C116.5 344.8 117.7 344.2 118.7 344.4C119.8 344.6 120.9 345.6 122.0 347.4C123.0 349.1 123.9 352.0 125.0 354.9C126.0 357.8 127.2 362.2 128.2 364.9C129.3 367.5 130.3 370.2 131.2 370.6C132.1 371.0 132.9 369.6 133.7 367.4C134.6 365.2 135.3 361.1 136.2 357.4C137.2 353.6 138.4 348.8 139.5 344.9C140.5 340.9 141.4 336.6 142.5 333.6C143.5 330.7 144.7 329.9 145.7 327.4C146.8 324.9 147.8 321.4 148.7 318.6C149.6 315.9 150.2 313.2 151.2 311.2C152.3 309.1 153.7 308.0 155.0 306.2C156.2 304.4 157.5 302.0 158.7 300.4C160.0 298.9 161.3 297.4 162.4 296.9C163.6 296.4 164.4 296.3 165.4 297.4C166.5 298.5 167.7 301.5 168.7 303.7C169.7 305.9 170.7 310.2 171.7 310.7C172.7 311.1 173.5 309.2 174.4 306.2C175.4 303.1 176.3 298.5 177.4 292.4C178.6 286.4 179.9 277.0 181.2 269.9C182.4 262.9 183.7 256.0 184.9 249.9C186.2 243.9 187.4 237.9 188.7 233.7C189.9 229.5 191.1 227.0 192.4 225.0C193.8 223.0 195.4 221.9 196.7 221.7C197.9 221.5 198.8 223.0 199.9 223.7C201.1 224.5 202.4 224.6 203.7 226.2C204.9 227.9 206.2 230.4 207.4 233.7C208.7 237.0 209.9 241.0 211.2 246.2C212.4 251.4 213.7 258.1 214.9 264.9C216.2 271.8 217.5 281.2 218.7 287.4C219.8 293.7 220.9 299.0 221.9 302.4C223.0 305.9 223.9 308.2 224.9 308.2C225.9 308.2 226.9 306.3 227.9 302.4C228.9 298.5 230.2 292.4 231.2 284.9C232.1 277.4 232.8 267.4 233.7 257.4C234.5 247.5 235.3 233.9 236.2 225.0C237.0 216.0 237.7 208.5 238.7 203.7C239.6 199.0 240.7 196.7 241.6 196.2C242.6 195.8 243.6 198.1 244.4 201.2C245.2 204.4 245.8 210.5 246.6 215.0C247.4 219.4 248.3 226.1 249.1 228.0C250.0 229.8 250.9 226.9 251.9 226.2C252.8 225.5 253.8 223.7 254.9 223.7C256.0 223.7 257.4 224.3 258.6 226.2C259.9 228.1 261.3 231.0 262.4 235.0C263.5 238.9 264.5 246.2 265.4 249.9C266.3 253.7 266.9 256.4 267.9 257.4C268.8 258.5 270.2 256.6 271.1 256.2C272.1 255.8 272.6 256.2 273.6 254.9C274.7 253.7 276.1 250.2 277.4 248.7C278.6 247.2 279.9 246.2 281.1 246.2C282.4 246.2 283.6 246.8 284.9 248.7C286.1 250.6 287.4 253.7 288.6 257.4C289.9 261.2 291.1 265.4 292.4 271.2C293.6 277.0 295.1 285.1 296.1 292.4C297.1 299.7 297.9 308.9 298.6 314.9C299.4 320.9 299.9 324.9 300.6 328.6C301.3 332.4 302.1 333.0 302.9 337.4C303.6 341.8 304.2 347.8 304.9 354.9C305.5 361.9 306.2 372.8 306.8 379.9C307.5 386.9 307.9 394.1 308.6 397.5C309.3 400.8 310.1 399.4 311.1 400.0C312.0 400.5 313.3 399.9 314.3 400.7C315.4 401.5 316.2 402.6 317.3 404.9C318.5 407.3 319.8 411.6 321.1 414.9C322.3 418.3 323.6 422.4 324.8 424.9C326.1 427.5 327.1 428.8 328.6 430.4C330.0 432.0 332.1 433.5 333.6 434.4C335.0 435.4 336.1 435.1 337.3 436.2C338.6 437.3 339.9 439.7 341.1 441.2C342.2 442.6 343.4 444.1 344.3 444.9C345.3 445.8 345.9 446.2 346.8 446.2C347.7 446.2 348.7 445.8 349.8 444.9C350.9 444.1 352.3 442.6 353.6 441.2C354.8 439.7 356.3 438.3 357.3 436.2C358.4 434.1 359.1 432.2 359.8 428.7C360.6 425.1 361.1 421.4 361.8 414.9C362.5 408.5 363.5 401.2 364.3 390.0C365.1 378.7 366.0 359.1 366.8 347.4C367.6 335.7 368.5 325.9 369.3 319.9C370.1 313.9 370.9 312.8 371.6 311.2C372.2 309.5 372.4 309.3 373.1 309.9C373.7 310.5 374.5 312.4 375.3 314.9C376.1 317.4 377.0 322.5 377.8 324.9C378.6 327.3 379.4 329.8 380.3 329.4C381.2 329.0 382.1 325.2 383.0 322.4C384.0 319.6 385.0 314.6 386.0 312.4C387.0 310.2 388.1 309.4 389.0 309.4C390.0 309.4 390.8 310.2 391.8 312.4C392.7 314.6 393.8 317.8 394.8 322.4C395.8 327.0 396.9 333.6 397.8 339.9C398.6 346.1 399.2 352.5 400.0 360.0C400.8 367.5 401.7 377.1 402.5 385.0C403.3 392.9 404.1 400.4 405.0 407.5C405.9 414.5 406.9 421.6 408.0 427.4C409.0 433.3 410.2 438.7 411.2 442.4C412.3 446.2 413.4 448.1 414.5 449.9C415.6 451.8 416.9 452.8 418.0 453.7C419.1 454.5 420.1 454.1 421.2 454.9C422.3 455.8 423.5 457.0 424.5 458.7C425.4 460.3 426.1 463.3 427.0 464.9C427.8 466.6 428.6 468.2 429.5 468.7C430.4 469.2 431.6 467.1 432.5 467.9C433.4 468.8 434.1 472.1 435.0 473.7C435.8 475.2 436.6 478.0 437.5 477.4C438.3 476.8 439.3 475.3 440.0 469.9C440.7 464.5 441.1 452.9 441.7 444.9C442.3 437.0 443.0 427.5 443.7 422.4C444.5 417.4 445.4 414.7 446.2 414.5C447.0 414.3 447.8 418.4 448.7 421.2C449.6 424.0 450.7 431.4 451.7 431.2C452.8 431.0 453.8 426.0 455.0 420.0C456.1 413.9 457.5 402.9 458.7 395.0C459.9 387.1 461.1 377.4 462.4 372.5C463.8 367.6 465.5 365.5 466.7 365.5C467.9 365.5 468.9 367.6 469.9 372.5C471.0 377.4 472.0 387.5 472.9 395.0C473.9 402.5 474.6 412.0 475.4 417.5C476.3 422.9 477.2 428.7 478.2 427.4C479.1 426.2 480.3 417.0 481.2 410.0C482.1 402.9 482.7 391.3 483.7 385.0C484.6 378.7 485.9 372.8 486.9 372.0C488.0 371.2 489.0 375.3 489.9 380.0C490.8 384.7 491.6 392.5 492.4 400.0C493.3 407.5 494.1 416.6 494.9 424.9C495.8 433.3 496.6 442.4 497.4 449.9C498.3 457.4 499.1 465.8 499.9 469.9C500.8 474.1 501.6 474.5 502.4 474.9C503.3 475.3 504.2 473.0 504.9 472.4C505.6 471.8 506.0 471.1 506.7 471.2C507.3 471.3 508.0 473.1 508.7 472.9C509.3 472.7 509.8 472.1 510.4 469.9C511.0 467.8 511.7 463.7 512.4 459.9C513.1 456.2 513.7 450.6 514.4 447.4C515.1 444.3 516.0 440.8 516.7 441.2C517.4 441.6 518.0 447.0 518.7 449.9C519.3 452.8 519.9 459.1 520.4 458.7C520.9 458.3 521.4 455.6 521.9 447.4C522.4 439.3 522.9 419.1 523.1 410.0C523.4 400.8 523.3 403.6 523.6 392.4C524.0 381.1 524.8 354.9 525.4 342.4C526.0 329.9 526.6 322.9 527.4 317.4C528.1 311.9 529.1 309.0 529.9 309.4C530.6 309.9 531.3 314.4 531.9 319.9C532.5 325.4 533.0 336.6 533.6 342.4C534.3 348.2 535.0 354.5 535.6 354.9C536.3 355.3 536.8 352.0 537.4 344.9C538.0 337.8 538.8 327.9 539.4 312.4C540.0 297.0 540.4 265.7 541.1 252.3C541.8 239.0 542.6 237.8 543.6 232.4C544.7 226.9 546.0 222.9 547.4 219.9C548.8 216.9 550.6 215.0 551.9 214.4C553.1 213.7 554.0 215.0 554.9 216.1C555.8 217.2 556.5 219.9 557.4 221.1C558.2 222.4 559.0 221.7 559.9 223.6C560.8 225.5 561.8 229.2 562.9 232.4C563.9 235.5 565.0 237.5 566.1 242.5C567.3 247.5 568.7 255.4 569.9 262.5C571.0 269.6 572.0 277.0 572.9 285.0C573.8 292.9 574.5 301.2 575.4 309.9C576.2 318.7 577.1 329.1 577.9 337.4C578.6 345.8 579.1 352.9 579.9 360.0C580.6 367.1 581.5 373.7 582.4 380.0C583.2 386.2 583.9 393.0 584.9 397.5C585.8 402.0 586.8 405.1 587.9 407.0C588.9 408.8 590.1 408.5 591.1 408.7C592.1 408.9 593.1 407.4 594.1 408.2C595.1 409.0 596.2 411.7 596.9 413.7C597.5 415.7 597.7 416.9 598.2 420.0C598.8 423.1 599.5 427.9 600.1 432.5C600.7 437.1 601.4 442.3 602.0 447.6C602.6 452.8 603.2 459.5 603.9 463.9C604.5 468.2 605.2 471.3 605.7 473.9C606.3 476.5 606.8 478.1 607.4 479.5C607.9 480.9 608.3 481.6 608.9 482.4C609.4 483.2 609.9 483.8 610.8 484.3C611.6 484.7 612.9 485.0 613.9 485.2C614.8 485.3 615.6 485.2 616.4 485.2C617.2 485.1 617.9 485.0 618.9 484.9C619.9 484.8 621.7 484.7 622.7 484.5C623.6 484.3 624.0 484.0 624.5 483.7C625.1 483.3 625.6 482.9 626.0 482.3C626.5 481.7 627.0 480.9 627.4 479.9C627.9 478.9 628.2 478.4 628.7 476.4C629.1 474.3 629.7 471.2 630.2 467.6C630.6 464.1 631.1 459.9 631.4 455.1C631.8 450.3 632.1 444.6 632.4 438.8C632.7 433.0 632.9 429.8 633.3 420.0C633.7 410.2 634.2 388.3 634.8 380.0C635.4 371.7 636.1 372.2 636.8 370.0C637.6 367.8 638.4 366.6 639.3 367.0C640.2 367.4 641.4 369.1 642.3 372.5C643.2 375.9 644.0 381.7 644.8 387.5C645.6 393.3 646.4 401.0 647.3 407.5C648.3 413.9 649.6 424.9 650.6 426.2C651.5 427.4 652.1 421.8 652.8 415.0C653.5 408.1 654.1 399.2 654.8 385.0C655.5 370.8 656.2 347.4 656.8 329.9C657.4 312.4 658.0 295.8 658.5 280.0C659.0 264.1 659.3 248.2 659.8 234.9C660.3 221.5 661.1 210.7 661.8 199.9C662.5 189.0 663.0 176.3 663.7 169.9C664.5 163.4 665.2 164.0 666.2 161.1C667.3 158.2 668.7 154.8 670.0 152.4C671.2 150.0 672.5 148.3 673.7 146.9C675.0 145.5 676.0 144.9 677.5 144.2C678.9 143.4 680.8 142.7 682.5 142.4C684.1 142.1 685.8 142.2 687.5 142.4C689.1 142.6 691.0 143.3 692.5 143.7C693.9 144.0 694.5 144.4 696.2 144.4C697.9 144.4 700.6 143.8 702.5 143.7C704.3 143.5 705.4 143.5 707.5 143.7C709.5 143.8 712.4 144.2 714.9 144.4C717.4 144.6 719.9 144.6 722.4 144.9C724.9 145.2 727.0 145.4 729.9 146.1C732.8 146.8 736.6 148.3 739.9 149.1C743.3 150.0 746.6 150.4 749.9 151.1C753.2 151.8 756.6 152.8 759.9 153.4C763.2 154.0 767.0 154.1 769.9 154.9C772.8 155.6 774.9 156.7 777.4 157.9C779.9 159.1 782.8 160.8 784.9 161.9C787.0 162.9 787.4 163.2 789.9 164.1C792.4 165.0 796.5 166.2 799.9 167.4C803.2 168.5 806.5 169.9 809.9 171.1C813.2 172.4 816.5 173.4 819.9 174.9C823.2 176.3 826.5 178.2 829.9 179.9C833.2 181.5 836.5 183.4 839.9 184.9C843.2 186.3 846.5 187.4 849.8 188.6C853.2 189.8 856.5 190.9 859.8 191.9C863.2 192.8 866.9 193.6 869.8 194.1C872.7 194.6 874.8 194.7 877.3 194.9C879.8 195.0 882.3 194.7 884.8 194.9C887.3 195.1 889.8 195.5 892.3 196.1C894.8 196.7 897.3 197.8 899.8 198.6C902.3 199.4 905.0 200.3 907.3 201.1C909.6 201.8 911.9 202.5 913.5 203.1C915.2 203.7 916.0 204.3 917.3 204.8C918.5 205.4 920.4 206.3 921.0 206.6"/>
<path class="c" stroke="#000080" d="M106.7 168.7C107.3 168.9 108.8 170.2 110.0 169.9C111.2 169.6 112.5 167.8 113.7 166.7C115.0 165.5 116.2 163.5 117.5 163.2C118.7 162.8 120.0 163.5 121.2 164.4C122.5 165.3 123.8 166.9 125.0 168.7C126.1 170.4 127.1 173.0 128.2 174.9C129.4 176.8 130.9 180.3 132.0 179.9C133.1 179.5 134.1 174.5 135.0 172.4C135.9 170.3 136.6 168.2 137.5 167.4C138.3 166.7 139.2 168.7 140.0 167.9C140.7 167.1 141.1 164.2 142.0 162.4C142.8 160.6 143.8 158.7 145.0 156.9C146.1 155.2 147.5 153.2 148.7 151.9C150.0 150.7 151.2 150.5 152.5 149.4C153.7 148.4 154.8 146.7 156.2 145.7C157.6 144.6 159.2 143.7 160.7 143.2C162.2 142.6 163.7 142.3 164.9 142.4C166.2 142.5 167.1 143.0 168.2 143.7C169.3 144.4 170.6 146.8 171.7 146.7C172.8 146.5 173.6 145.1 174.9 142.9C176.3 140.8 178.3 136.9 179.9 133.7C181.6 130.5 183.3 126.6 184.9 123.7C186.6 120.8 188.3 118.0 189.9 116.2C191.6 114.4 193.3 113.2 194.9 113.0C196.6 112.7 198.3 114.2 199.9 115.0C201.6 115.7 203.3 116.3 204.9 117.5C206.6 118.6 208.3 119.8 209.9 121.7C211.6 123.6 213.2 125.9 214.9 128.7C216.6 131.5 218.2 136.1 219.9 138.7C221.6 141.3 223.5 144.2 224.9 144.4C226.4 144.6 227.4 142.8 228.7 139.9C229.9 137.1 231.2 131.8 232.4 127.4C233.7 123.1 235.0 117.0 236.2 113.7C237.3 110.4 238.5 108.7 239.4 107.5C240.3 106.2 240.7 105.6 241.6 106.2C242.6 106.8 243.6 109.1 244.9 111.2C246.1 113.3 247.8 117.4 249.1 118.7C250.5 120.0 251.5 118.9 252.9 119.2C254.3 119.5 255.8 119.7 257.4 120.7C259.0 121.6 260.6 123.0 262.4 124.9C264.1 126.9 266.2 131.1 267.9 132.4C269.5 133.8 271.0 132.9 272.4 132.9C273.7 132.9 274.9 132.6 276.1 132.4C277.4 132.2 278.4 131.5 279.9 131.7C281.3 131.9 283.3 132.3 284.9 133.7C286.4 135.1 287.9 137.2 289.4 139.9C290.8 142.6 292.3 146.0 293.6 149.9C294.9 153.9 296.3 159.5 297.4 163.7C298.4 167.8 298.9 171.6 299.9 174.9C300.8 178.2 301.9 179.5 302.9 183.7C303.8 187.8 304.6 194.3 305.4 199.9C306.1 205.5 306.6 213.4 307.3 217.4C308.1 221.3 308.7 222.0 309.8 223.6C311.0 225.2 312.9 225.4 314.3 226.9C315.8 228.3 317.3 230.0 318.6 232.4C319.9 234.7 321.1 238.0 322.3 241.1C323.6 244.2 324.9 248.8 326.1 251.1C327.2 253.4 328.1 254.2 329.3 254.8C330.6 255.5 332.2 255.0 333.6 254.8C334.9 254.6 336.1 253.2 337.3 253.6C338.6 254.0 339.6 256.2 341.1 257.3C342.5 258.5 344.6 260.1 346.1 260.3C347.5 260.5 348.4 259.9 349.8 258.6C351.3 257.3 353.1 255.0 354.8 252.3C356.5 249.6 358.4 248.6 359.8 242.3C361.3 236.1 362.4 224.4 363.6 214.9C364.7 205.3 365.8 192.6 366.8 184.9C367.8 177.2 368.4 171.8 369.3 168.7C370.2 165.5 371.2 166.2 372.3 166.2C373.4 166.2 374.8 167.7 376.0 168.7C377.3 169.6 378.5 172.3 379.8 171.9C381.0 171.5 382.3 168.0 383.5 166.2C384.8 164.3 386.2 161.7 387.3 160.7C388.3 159.6 388.7 159.4 389.8 159.9C390.8 160.4 392.7 162.6 393.5 163.7C394.4 164.7 394.1 163.5 395.0 166.2C395.9 168.9 397.5 174.3 398.8 179.9C400.0 185.5 401.2 192.4 402.5 199.9C403.7 207.4 405.0 217.4 406.2 224.9C407.5 232.4 408.7 239.9 410.0 244.8C411.2 249.8 412.5 252.3 413.7 254.8C415.0 257.4 416.2 258.7 417.5 260.0C418.7 261.3 420.0 260.6 421.2 262.5C422.5 264.4 423.7 267.9 425.0 271.2C426.2 274.6 427.5 280.5 428.7 282.5C430.0 284.4 431.5 281.3 432.5 283.0C433.4 284.6 433.8 288.4 434.5 292.4C435.1 296.5 435.6 304.3 436.2 307.4C436.8 310.6 437.3 313.7 438.0 311.2C438.6 308.7 439.3 301.8 440.0 292.4C440.6 283.1 441.2 264.6 441.7 255.0C442.2 245.4 442.4 241.1 443.0 234.9C443.5 228.6 444.3 221.0 445.0 217.4C445.6 213.7 446.1 212.5 446.7 212.9C447.3 213.3 448.0 216.1 448.7 219.9C449.5 223.6 450.5 232.5 451.2 235.4C452.0 238.2 452.5 238.2 453.2 236.9C453.9 235.5 454.7 231.0 455.4 227.4C456.2 223.7 456.5 219.9 457.4 214.9C458.4 209.9 459.7 201.6 461.2 197.4C462.7 193.2 465.2 189.9 466.7 189.9C468.2 189.9 468.9 193.2 469.9 197.4C471.0 201.6 472.0 209.5 472.9 214.9C473.9 220.3 474.6 226.3 475.4 229.9C476.3 233.4 477.0 236.9 477.9 236.1C478.9 235.3 480.2 229.7 481.2 224.9C482.1 220.1 482.8 211.2 483.7 207.4C484.5 203.5 485.2 201.9 486.2 201.9C487.1 201.9 488.4 203.5 489.4 207.4C490.5 211.2 491.5 218.6 492.4 224.9C493.3 231.1 494.1 239.8 494.9 244.8C495.8 249.9 496.6 247.9 497.4 255.0C498.3 262.1 499.2 278.7 499.9 287.5C500.7 296.2 501.1 305.6 501.9 307.4C502.8 309.3 503.8 300.4 504.9 298.7C506.0 297.0 507.7 298.4 508.7 296.9C509.6 295.5 509.8 294.9 510.4 290.0C511.0 285.0 511.7 273.7 512.4 267.5C513.1 261.2 513.7 256.2 514.4 252.5C515.1 248.7 516.0 245.0 516.7 245.0C517.4 245.0 518.0 250.2 518.7 252.5C519.3 254.8 519.9 260.0 520.4 258.7C520.9 257.5 521.4 251.5 521.9 245.0C522.4 238.5 523.1 229.9 523.6 219.9C524.2 209.9 524.8 194.1 525.4 184.9C526.0 175.7 526.6 169.0 527.4 164.9C528.1 160.8 529.1 160.0 529.9 160.4C530.6 160.8 531.3 164.6 531.9 167.4C532.5 170.2 533.0 174.9 533.6 177.4C534.3 179.9 535.0 182.8 535.6 182.4C536.3 182.0 536.8 179.1 537.4 174.9C538.0 170.7 538.6 162.8 539.4 157.4C540.1 152.0 541.0 145.8 541.9 142.4C542.8 139.1 543.8 138.5 544.9 137.4C546.0 136.4 547.4 136.2 548.6 136.2C549.9 136.2 551.1 136.6 552.4 137.4C553.6 138.3 554.9 139.7 556.1 141.2C557.4 142.6 558.6 143.9 559.9 146.2C561.1 148.5 562.4 151.8 563.6 154.9C564.9 158.0 566.1 160.7 567.4 164.9C568.6 169.1 569.9 174.1 571.1 179.9C572.4 185.7 573.6 192.4 574.9 199.9C576.1 207.4 577.4 217.4 578.6 224.9C579.9 232.4 581.3 239.9 582.4 244.8C583.4 249.8 583.9 252.3 584.9 254.8C585.8 257.3 586.8 259.3 587.9 259.8C588.9 260.3 589.9 258.8 591.1 257.8C592.3 256.9 593.8 254.4 594.9 254.3C595.9 254.3 596.5 254.3 597.4 257.3C598.2 260.4 599.0 266.2 599.9 272.5C600.7 278.7 601.5 287.5 602.3 294.9C603.2 302.4 604.0 309.5 604.8 317.4C605.7 325.3 606.5 334.5 607.3 342.4C608.2 350.3 609.0 358.2 609.8 364.9C610.7 371.6 611.5 378.0 612.3 382.4C613.2 386.8 614.0 389.9 614.8 391.1C615.7 392.4 616.5 391.3 617.3 389.9C618.2 388.4 619.0 385.7 619.8 382.4C620.7 379.1 621.5 374.5 622.3 369.9C623.2 365.3 624.1 361.6 624.8 354.9C625.6 348.2 626.2 338.3 626.8 329.9C627.5 321.6 628.0 315.4 628.6 304.9C629.2 294.5 629.5 281.6 630.3 267.5C631.2 253.3 632.6 232.0 633.6 219.9C634.5 207.8 635.2 200.3 636.1 194.9C636.9 189.5 637.6 188.0 638.6 187.4C639.5 186.8 640.9 188.2 641.8 191.1C642.8 194.1 643.5 200.1 644.3 204.9C645.1 209.7 646.1 216.7 646.8 219.9C647.6 223.0 648.2 222.7 648.8 223.6C649.4 224.5 650.0 226.0 650.6 225.4C651.1 224.7 651.7 224.1 652.3 219.9C652.9 215.6 653.7 209.0 654.3 199.9C654.9 190.7 655.5 174.9 656.0 164.9C656.6 154.9 657.3 146.2 657.8 139.9C658.3 133.7 658.8 130.8 659.3 127.4C659.8 124.1 660.1 121.6 661.0 119.9C662.0 118.3 663.5 118.1 665.0 117.4C666.5 116.7 668.1 116.0 670.0 115.7C671.9 115.3 674.1 115.2 676.2 115.4C678.3 115.6 680.2 116.3 682.5 116.9C684.8 117.6 686.6 118.5 690.0 119.4C693.3 120.3 698.3 121.4 702.5 122.4C706.6 123.5 710.8 124.5 714.9 125.7C719.1 126.8 723.3 128.1 727.4 129.2C731.6 130.2 735.8 130.9 739.9 131.9C744.1 132.9 748.3 133.9 752.4 134.9C756.6 135.9 761.2 137.0 764.9 137.9C768.7 138.8 771.6 139.5 774.9 140.4C778.2 141.3 781.6 142.3 784.9 143.2C788.2 144.0 791.5 144.8 794.9 145.6C798.2 146.5 801.5 147.3 804.9 148.1C808.2 148.9 811.5 149.6 814.9 150.4C818.2 151.2 821.5 152.0 824.9 152.9C828.2 153.8 831.5 154.8 834.9 155.6C838.2 156.5 841.5 157.3 844.9 158.1C848.2 158.9 851.5 159.7 854.8 160.4C858.2 161.1 861.5 161.8 864.8 162.4C868.2 163.0 871.5 163.5 874.8 163.9C878.2 164.3 881.5 164.4 884.8 164.9C888.2 165.3 891.5 166.0 894.8 166.6C898.1 167.3 901.9 168.0 904.8 168.6C907.7 169.2 909.6 169.6 912.3 170.1C915.0 170.7 919.6 171.6 921.0 171.9"/>
<path class="c" stroke="#9400ff" d="M106.7 161.9C107.3 161.8 108.8 161.9 110.0 161.2C111.2 160.4 112.4 158.5 113.7 157.4C115.1 156.3 116.6 154.6 118.0 154.4C119.4 154.2 120.8 155.0 122.0 156.2C123.1 157.3 123.9 158.7 125.0 161.2C126.0 163.7 127.1 167.9 128.2 171.2C129.4 174.4 130.9 180.7 132.0 180.7C133.1 180.7 133.8 174.3 135.0 171.2C136.1 168.0 137.5 165.0 138.7 161.9C140.0 158.8 141.3 156.0 142.5 152.4C143.6 148.9 144.6 142.8 145.7 140.7C146.8 138.6 148.1 141.3 149.2 139.9C150.3 138.6 151.3 134.8 152.5 132.4C153.6 130.0 154.8 127.4 156.2 125.4C157.6 123.5 159.2 121.7 160.7 120.7C162.2 119.6 163.7 119.2 164.9 119.2C166.2 119.2 166.8 119.5 167.9 120.7C169.1 121.9 170.5 126.3 171.7 126.2C172.9 126.1 173.6 123.3 174.9 119.9C176.3 116.6 178.3 111.0 179.9 106.2C181.6 101.4 183.3 95.4 184.9 91.2C186.6 87.1 188.1 83.6 189.9 81.2C191.8 78.8 194.1 77.1 196.2 76.7C198.3 76.3 200.3 77.3 202.4 78.7C204.5 80.1 206.8 82.3 208.7 85.0C210.5 87.7 212.0 90.7 213.7 95.0C215.3 99.2 217.2 106.1 218.7 110.5C220.1 114.8 221.4 118.9 222.4 121.2C223.5 123.5 224.0 124.4 224.9 124.2C225.8 124.0 226.9 122.7 227.9 119.9C228.9 117.2 230.0 113.7 231.2 107.5C232.3 101.2 233.7 89.8 234.9 82.5C236.1 75.2 237.0 68.0 238.2 63.7C239.3 59.5 240.5 57.2 241.6 57.0C242.8 56.8 243.6 59.7 244.9 62.5C246.1 65.3 247.8 72.1 249.1 73.7C250.5 75.3 251.7 72.5 252.9 72.0C254.1 71.5 254.8 70.3 256.1 70.7C257.4 71.1 259.3 72.7 260.6 74.5C262.0 76.2 263.2 78.8 264.4 81.2C265.6 83.6 266.5 88.1 267.9 88.7C269.2 89.3 271.0 86.4 272.4 85.0C273.7 83.5 274.7 81.2 276.1 80.0C277.6 78.8 279.4 77.7 281.1 77.7C282.8 77.7 284.6 78.6 286.1 80.0C287.7 81.4 288.9 83.1 290.4 86.2C291.8 89.3 293.5 93.7 294.9 98.7C296.2 103.7 297.4 110.8 298.6 116.2C299.8 121.6 300.9 127.0 301.9 131.2C302.8 135.4 303.6 136.0 304.4 141.2C305.1 146.4 306.0 156.0 306.6 162.4C307.2 168.9 307.5 175.1 308.1 179.9C308.6 184.7 308.8 188.9 309.8 191.1C310.9 193.3 313.1 191.5 314.3 193.1C315.6 194.8 316.3 198.8 317.3 201.1C318.3 203.5 319.3 204.7 320.3 207.4C321.4 210.1 322.3 214.0 323.6 217.4C324.8 220.7 326.4 224.2 327.8 227.4C329.3 230.5 331.2 234.4 332.3 236.1C333.5 237.8 334.1 236.1 334.8 237.4C335.6 238.6 336.1 242.4 336.8 243.6C337.6 244.8 338.6 243.4 339.3 244.8C340.0 246.3 340.2 249.5 341.1 252.3C341.9 255.2 343.4 259.7 344.3 261.8C345.3 264.0 345.9 265.3 346.8 265.3C347.7 265.3 348.7 263.6 349.8 261.8C350.9 260.1 352.3 257.3 353.6 254.8C354.8 252.4 356.1 251.3 357.3 247.3C358.6 243.4 360.0 238.2 361.1 231.1C362.1 224.0 362.7 216.3 363.6 204.9C364.4 193.4 365.3 174.9 366.1 162.4C366.8 149.9 367.2 138.9 367.8 129.9C368.4 121.0 369.0 113.1 369.8 108.7C370.6 104.3 371.9 103.9 372.8 103.7C373.7 103.5 374.4 105.0 375.3 107.5C376.2 109.9 377.2 116.1 378.0 118.7C378.9 121.3 379.6 123.1 380.5 122.9C381.5 122.7 382.5 119.5 383.5 117.5C384.6 115.4 385.8 111.8 386.8 110.5C387.7 109.1 388.4 108.8 389.3 109.2C390.2 109.6 391.3 111.4 392.3 113.0C393.2 114.5 393.9 114.6 395.0 118.7C396.1 122.8 397.5 128.9 398.8 137.4C400.0 146.0 401.2 158.3 402.5 169.9C403.7 181.6 405.4 197.4 406.2 207.4C407.1 217.4 406.7 222.1 407.5 230.0C408.3 237.9 410.0 248.3 411.2 255.0C412.5 261.6 413.5 266.2 415.0 270.0C416.4 273.7 418.5 275.0 420.0 277.5C421.4 280.0 422.5 280.8 423.7 285.0C425.0 289.1 426.4 297.0 427.5 302.4C428.5 307.9 429.1 315.1 430.0 317.4C430.9 319.7 432.1 313.3 433.0 316.2C433.8 319.1 434.2 327.2 435.0 334.9C435.7 342.6 436.7 361.6 437.5 362.4C438.2 363.2 438.8 357.4 439.5 339.9C440.1 322.4 440.6 275.7 441.2 257.3C441.8 239.0 442.3 237.4 443.0 229.9C443.6 222.4 444.3 215.9 445.0 212.4C445.6 208.8 446.1 207.8 446.7 208.6C447.3 209.5 448.0 213.2 448.7 217.4C449.5 221.5 450.5 230.5 451.2 233.6C451.9 236.7 452.3 238.0 453.0 236.1C453.7 234.2 454.5 229.7 455.4 222.4C456.4 215.1 457.5 202.0 458.7 192.4C459.9 182.8 461.1 171.4 462.4 164.9C463.8 158.4 465.5 153.6 466.7 153.2C467.9 152.8 468.9 156.7 469.9 162.4C471.0 168.1 472.0 178.6 472.9 187.4C473.9 196.1 474.5 207.5 475.4 214.9C476.4 222.3 477.5 233.1 478.4 231.9C479.4 230.6 480.3 216.9 481.2 207.4C482.1 197.9 482.8 182.4 483.7 174.9C484.6 167.4 485.7 163.2 486.7 162.4C487.6 161.6 488.5 164.5 489.4 169.9C490.4 175.3 491.5 185.7 492.4 194.9C493.3 204.0 494.1 214.9 494.9 224.9C495.8 234.9 496.7 243.7 497.4 255.0C498.2 266.2 498.8 280.0 499.4 292.4C500.0 304.9 500.6 321.4 501.2 329.9C501.8 338.5 502.3 342.8 502.9 343.7C503.5 344.5 504.3 336.8 504.9 334.9C505.5 333.0 506.0 332.0 506.7 332.4C507.3 332.8 508.0 337.8 508.7 337.4C509.3 337.0 509.8 335.3 510.4 329.9C511.0 324.5 511.7 314.5 512.4 304.9C513.1 295.4 513.7 280.8 514.4 272.5C515.1 264.1 516.0 254.6 516.7 255.0C517.4 255.4 518.0 268.7 518.7 275.0C519.3 281.2 520.0 294.5 520.7 292.4C521.3 290.4 522.0 274.6 522.4 262.5C522.8 250.4 522.5 237.4 522.9 219.9C523.3 202.4 524.3 173.2 524.9 157.4C525.5 141.6 526.0 132.6 526.6 124.9C527.3 117.2 528.1 114.0 528.6 111.2C529.2 108.4 529.6 106.9 530.1 108.0C530.7 109.0 531.3 112.5 531.9 117.5C532.5 122.4 533.0 132.4 533.6 137.4C534.3 142.4 535.0 148.7 535.6 147.4C536.3 146.2 536.8 137.4 537.4 129.9C538.0 122.4 538.8 111.6 539.4 102.5C540.0 93.3 540.4 82.1 541.1 75.0C541.8 67.9 542.6 63.7 543.6 60.0C544.7 56.3 546.0 54.6 547.4 53.0C548.8 51.4 550.4 50.5 551.9 50.5C553.3 50.5 555.0 52.0 556.1 53.0C557.3 53.9 557.8 55.5 558.6 56.2C559.5 57.0 560.1 55.6 561.1 57.5C562.2 59.4 563.6 64.1 564.9 67.5C566.1 70.8 567.4 72.9 568.6 77.5C569.9 82.1 571.1 87.9 572.4 95.0C573.6 102.0 574.9 110.8 576.1 119.9C577.4 129.1 578.6 140.3 579.9 149.9C581.1 159.5 582.4 169.9 583.6 177.4C584.8 184.9 585.8 190.7 586.9 194.9C587.9 199.1 588.7 200.1 589.9 202.4C591.0 204.7 592.6 206.5 593.6 208.6C594.6 210.7 595.3 210.5 596.1 214.9C596.9 219.2 598.0 228.2 598.6 234.9C599.2 241.5 599.2 245.4 599.9 255.0C600.5 264.6 601.5 280.0 602.3 292.4C603.2 304.9 604.0 317.0 604.8 329.9C605.7 342.8 606.7 354.9 607.3 369.9C608.0 384.9 608.4 409.6 608.9 420.0C609.3 430.4 609.7 428.4 610.1 432.5C610.6 436.7 611.1 441.1 611.6 445.1C612.2 449.0 612.7 453.4 613.3 456.3C613.8 459.3 614.2 461.3 614.8 462.6C615.3 464.0 615.8 464.6 616.4 464.5C617.0 464.4 617.6 463.5 618.3 462.0C618.9 460.4 619.5 457.9 620.1 455.1C620.8 452.3 621.4 448.8 622.0 445.1C622.7 441.3 623.3 436.7 623.9 432.5C624.5 428.4 624.6 428.8 625.4 420.0C626.2 411.2 627.6 399.1 628.6 379.9C629.5 360.7 630.4 331.6 631.1 304.9C631.7 278.3 631.7 240.7 632.3 219.9C632.9 199.0 634.1 189.5 634.8 179.9C635.6 170.3 636.1 166.0 636.8 162.4C637.6 158.8 638.5 158.2 639.3 158.2C640.2 158.2 641.0 158.4 641.8 162.4C642.6 166.4 643.5 174.9 644.3 182.4C645.1 189.9 646.0 200.5 646.8 207.4C647.6 214.2 648.4 220.5 649.1 223.6C649.7 226.7 649.9 227.5 650.5 226.1C651.1 224.6 651.8 222.5 652.5 214.8C653.2 207.1 653.9 194.0 654.5 179.9C655.1 165.7 655.7 146.6 656.2 129.9C656.8 113.3 657.4 93.3 658.0 79.9C658.6 66.6 659.2 57.5 660.0 50.0C660.7 42.5 661.4 38.9 662.5 35.0C663.5 31.0 664.8 28.5 666.2 26.2C667.7 23.9 669.6 22.4 671.2 21.2C672.9 20.1 674.3 19.8 676.2 19.5C678.1 19.2 680.2 18.9 682.5 19.2C684.8 19.5 686.6 20.5 690.0 21.2C693.3 22.0 698.3 23.0 702.5 23.7C706.6 24.5 710.8 24.9 714.9 25.7C719.1 26.6 723.3 27.7 727.4 28.7C731.6 29.8 735.8 30.9 739.9 32.0C744.1 33.0 748.3 34.0 752.4 35.0C756.6 36.0 761.2 37.1 764.9 38.0C768.7 38.9 771.6 39.4 774.9 40.5C778.2 41.6 781.6 43.2 784.9 44.5C788.2 45.7 791.5 46.8 794.9 48.0C798.2 49.1 801.5 50.3 804.9 51.2C808.2 52.2 811.5 52.7 814.9 53.7C818.2 54.8 821.5 56.1 824.9 57.5C828.2 58.8 831.5 60.6 834.9 62.0C838.2 63.3 841.5 64.7 844.9 65.7C848.2 66.7 851.5 67.4 854.8 68.2C858.2 69.0 861.5 69.7 864.8 70.5C868.2 71.2 871.5 72.0 874.8 72.5C878.2 72.9 881.5 72.8 884.8 73.2C888.2 73.6 891.5 74.2 894.8 75.0C898.1 75.7 901.9 76.6 904.8 77.5C907.7 78.3 910.2 79.1 912.3 79.9C914.4 80.8 915.8 81.6 917.3 82.4C918.7 83.3 920.4 84.5 921.0 84.9"/>
<path d="M95.85 10.8V782.35H1041.9" fill="none" stroke="#000" stroke-width="2.4"/>
<path d="M203.1 782V797.8M322.7 782V797.8M442.4 782V797.8M562.0 782V797.8M681.7 782V797.8M801.3 782V797.8M920.9 782V797.8M1040.6 782V797.8" stroke="#000" stroke-width="2.4" fill="none"/>
<text class="t" x="203.3" y="832">1000</text>
<text class="t" x="322.9" y="832">1500</text>
<text class="t" x="442.6" y="832">2000</text>
<text class="t" x="562.2" y="832">2500</text>
<text class="t" x="681.9" y="832">3000</text>
<text class="t" x="801.5" y="832">3500</text>
<text class="t" x="921.1" y="832">4000</text>
<text class="t" x="1040.8" y="832">4500</text>
<text x="401" y="896.4" font-size="38.3">Wavenumber (cm<tspan font-size="22.5" dx="1.2" dy="-20">-1</tspan><tspan dy="20" dx="0.8">)</tspan></text>
<text transform="translate(36.8,552) rotate(-90)" font-size="37.95" letter-spacing="0.36">Transmittance (a.u.)</text>
<rect x="932" y="178.5" width="270.6" height="272.4" fill="#fff"/>
<path d="M932.15 178V451.6" stroke="#a8a8a8" stroke-width="1.4" fill="none"/><path d="M931.4 178.5H1203.2" stroke="#3c3c3c" stroke-width="1.15" fill="none"/><path d="M1202.6 178V451.7" stroke="#444" stroke-width="1.15" fill="none"/><path d="M931.4 450.95H1203.2" stroke="#6a6a6a" stroke-width="1.6" fill="none"/>
<path d="M944.7 199.3H1015.3" stroke="#000000" stroke-width="3.3" stroke-linecap="round" fill="none"/>
<text class="l" x="1025" y="209.8">PVA</text>
<path d="M944.7 238.2H1015.3" stroke="#ff0000" stroke-width="3.3" stroke-linecap="round" fill="none"/>
<text class="l" x="1025" y="248.8">CMC</text>
<path d="M944.7 277.2H1015.3" stroke="#0000ff" stroke-width="3.3" stroke-linecap="round" fill="none"/>
<text class="l" x="1025" y="287.7">PVA/PVP</text>
<path d="M944.7 316.2H1015.3" stroke="#ff00ff" stroke-width="3.3" stroke-linecap="round" fill="none"/>
<text class="l" x="1025" y="326.7">PVA/CMC-1</text>
<path d="M944.7 355.1H1015.3" stroke="#008000" stroke-width="3.3" stroke-linecap="round" fill="none"/>
<text class="l" x="1025" y="365.6">C1P12</text>
<path d="M944.7 394.1H1015.3" stroke="#000080" stroke-width="3.3" stroke-linecap="round" fill="none"/>
<text class="l" x="1025" y="404.6">C2P12</text>
<path d="M944.7 433.0H1015.3" stroke="#9400ff" stroke-width="3.3" stroke-linecap="round" fill="none"/>
<text class="l" x="1025" y="443.5">C3P12</text>
</svg></body></html>
